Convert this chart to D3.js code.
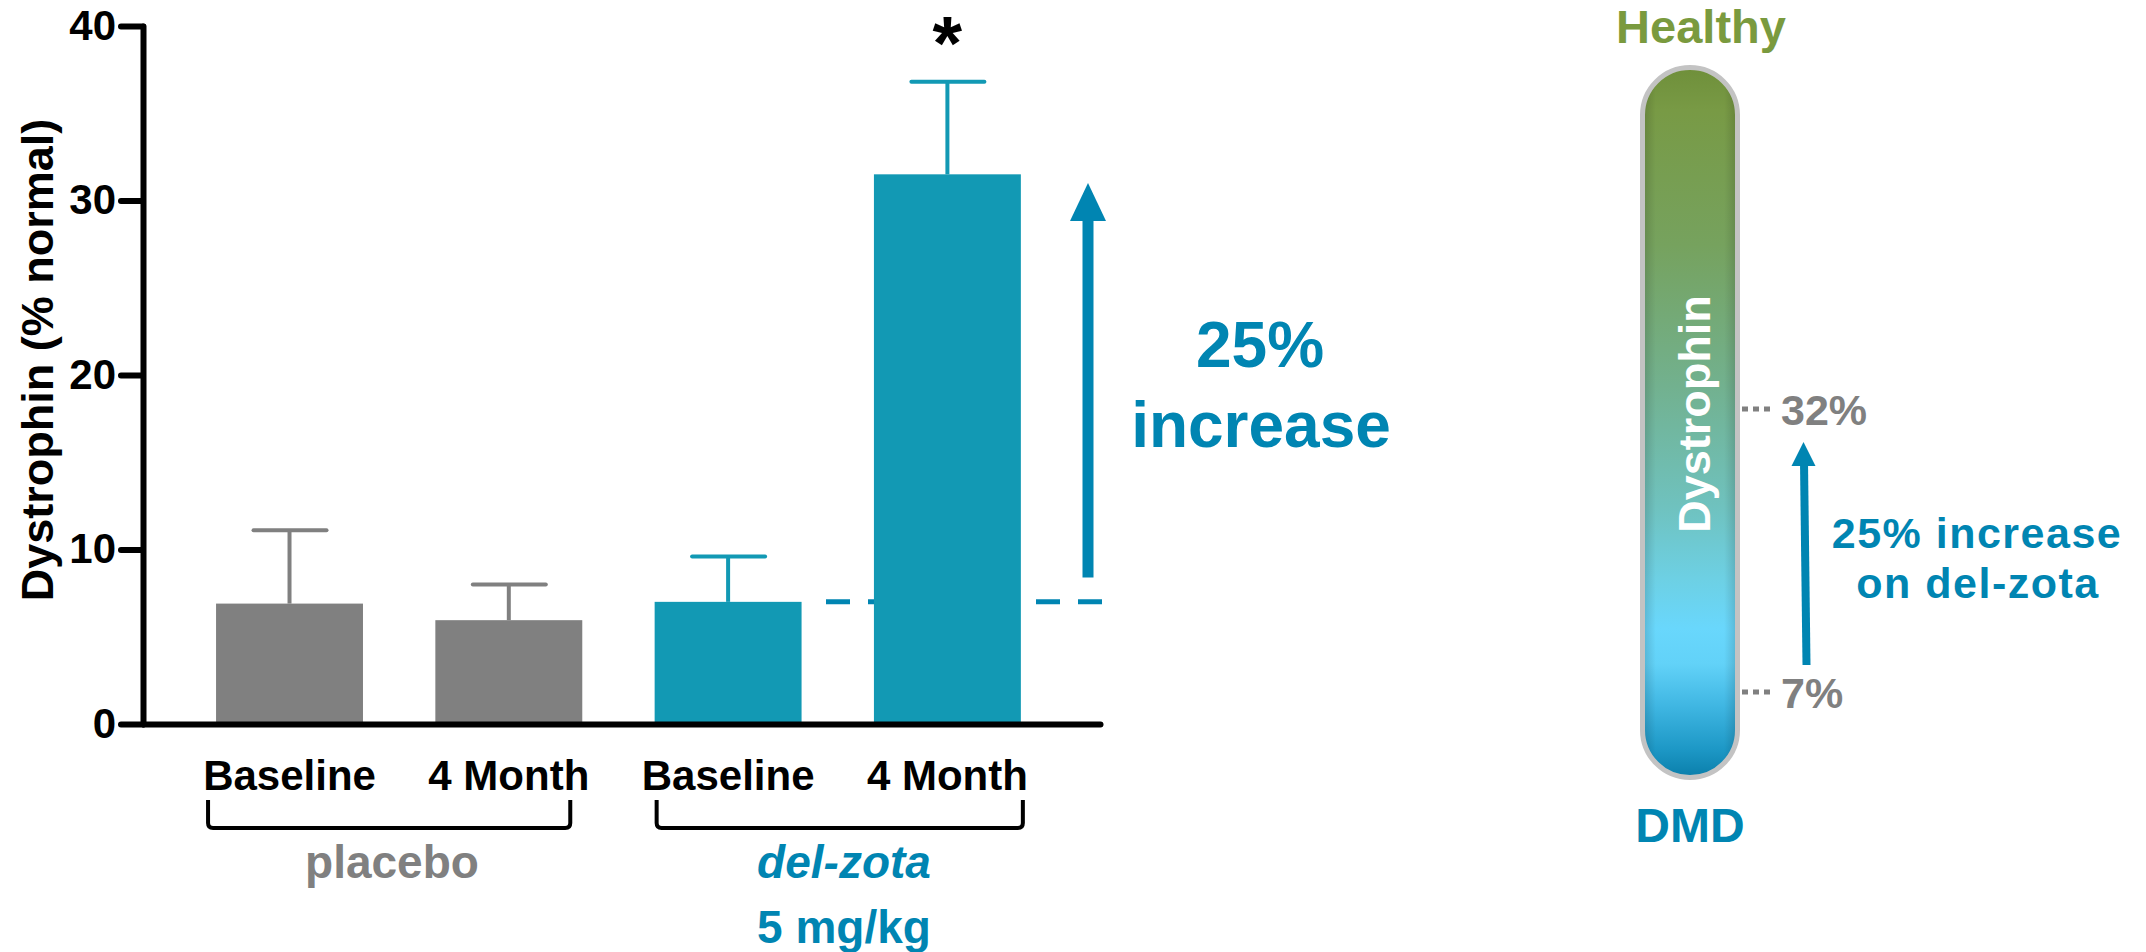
<!DOCTYPE html>
<html>
<head>
<meta charset="utf-8">
<script src="https://cdn.jsdelivr.net/npm/d3@7/dist/d3.min.js"></script>
<style>
  html, body { margin: 0; padding: 0; background: #fff; }
  svg { display: block; }
  text { font-family: "Liberation Sans", Arial, sans-serif; font-weight: bold; }
</style>
</head>
<body>
<svg id="chart" width="2146" height="952"></svg>
<script>
// ---------------- data ----------------
const categories = ["Baseline", "4 Month", "Baseline", "4 Month"];
const groups = ["placebo", "placebo", "del-zota", "del-zota"];
const means = [6.9, 5.95, 7.0, 31.5];
const upperErr = [11.1, 8.0, 9.6, 36.8];
const yTicks = [0, 10, 20, 30, 40];
const groupNames = ["placebo", "del-zota"];
const doseLabel = "5 mg/kg";
const yTitle = "Dystrophin (% normal)";
const baselineRef = 7.0;            // dashed reference level
const arrowRange = [8.4, 31.0];     // big arrow from / to
const increaseText = ["25%", "increase"];
const thermoLevels = [7, 32];
const thermoLabels = ["7%", "32%"];
const thermoTop = "Healthy";
const thermoBottom = "DMD";
const thermoText = "Dystrophin";
const thermoNote = ["25% increase", "on del-zota"];

// ---------------- styles ----------------
const GRAY = "#808080";
const TEAL = "#1299b4";
const BLUE = "#0085b2";
const GREEN = "#7a9a3e";

const svg = d3.select("#chart");

// ---------------- scales ----------------
const keys = categories.map((c, i) => groups[i] + "|" + c);
const x = d3.scaleBand().domain(keys).range([143, 1100])
  .paddingInner(0.33).paddingOuter(0.347).align(0.48);
const y = d3.scaleLinear().domain([0, 40]).range([724, 26]);
const bw = x.bandwidth();
const colorOf = g => g === "placebo" ? GRAY : TEAL;

// ---------------- y axis ----------------
const gy = svg.append("g").attr("transform", "translate(143,0)")
  .call(d3.axisLeft(y).tickValues(yTicks).tickSize(22).tickPadding(5).tickSizeOuter(0));
gy.select(".domain").attr("stroke", "#000").attr("stroke-width", 6).attr("stroke-linecap", "round");
gy.selectAll(".tick line").attr("stroke", "#000").attr("stroke-width", 6).attr("stroke-linecap", "round");
gy.selectAll(".tick text").attr("font-size", 42).attr("fill", "#000")
  .attr("font-family", '"Liberation Sans", Arial, sans-serif').attr("font-weight", "bold");

svg.append("text")
  .attr("transform", "translate(53,360) rotate(-90)")
  .attr("text-anchor", "middle").attr("font-size", 45).attr("fill", "#000")
  .text(yTitle);

// ---------------- dashed reference ----------------
svg.append("line")
  .attr("x1", 826).attr("x2", 1102)
  .attr("y1", y(baselineRef)).attr("y2", y(baselineRef))
  .attr("stroke", BLUE).attr("stroke-width", 5).attr("stroke-dasharray", "24,18");

// ---------------- bars ----------------
const data = keys.map((k, i) => ({ k, cat: categories[i], g: groups[i], v: means[i], e: upperErr[i] }));

svg.selectAll("rect.bar").data(data).join("rect")
  .attr("class", "bar")
  .attr("x", d => x(d.k)).attr("width", bw)
  .attr("y", d => y(d.v)).attr("height", d => y(0) - y(d.v))
  .attr("fill", d => colorOf(d.g));

// error bars
const eb = svg.selectAll("g.err").data(data).join("g").attr("class", "err");
eb.append("line")
  .attr("x1", d => x(d.k) + bw / 2).attr("x2", d => x(d.k) + bw / 2)
  .attr("y1", d => y(d.v)).attr("y2", d => y(d.e))
  .attr("stroke", d => colorOf(d.g)).attr("stroke-width", 4);
eb.append("line")
  .attr("x1", d => x(d.k) + bw / 2 - 36).attr("x2", d => x(d.k) + bw / 2 + 37)
  .attr("y1", d => y(d.e)).attr("y2", d => y(d.e))
  .attr("stroke", d => colorOf(d.g)).attr("stroke-width", 4).attr("stroke-linecap", "round");

// significance star
svg.append("text")
  .attr("x", x(keys[3]) + bw / 2).attr("y", 69)
  .attr("text-anchor", "middle").attr("font-size", 76).attr("fill", "#000")
  .text("*");

// ---------------- x axis ----------------
const gx = svg.append("g").attr("transform", `translate(0,${y(0)})`)
  .call(d3.axisBottom(x).tickSize(0).tickPadding(36).tickSizeOuter(0)
    .tickFormat(k => k.split("|")[1]));
gx.select(".domain").attr("stroke", "#000").attr("stroke-width", 6).attr("stroke-linecap", "round");
gx.selectAll(".tick text").attr("font-size", 42).attr("fill", "#000")
  .attr("font-family", '"Liberation Sans", Arial, sans-serif').attr("font-weight", "bold");

// ---------------- group brackets ----------------
const bracketSpec = [
  { g: groupNames[0], x1: x(keys[0]) - 8, x2: x(keys[1]) + bw - 12 },
  { g: groupNames[1], x1: x(keys[2]) + 2, x2: x(keys[3]) + bw + 2 }
];
bracketSpec.forEach(b => {
  const top = 800, bot = 828, r = 5;
  svg.append("path")
    .attr("d", `M${b.x1},${top} V${bot - r} Q${b.x1},${bot} ${b.x1 + r},${bot} H${b.x2 - r} Q${b.x2},${bot} ${b.x2},${bot - r} V${top}`)
    .attr("fill", "none").attr("stroke", "#000").attr("stroke-width", 4);
});
svg.append("text").attr("x", 392).attr("y", 878).attr("text-anchor", "middle")
  .attr("font-size", 46).attr("fill", GRAY).text(groupNames[0]);
svg.append("text").attr("x", 844).attr("y", 878).attr("text-anchor", "middle")
  .attr("font-size", 46).attr("font-style", "italic").attr("fill", BLUE).text(groupNames[1]);
svg.append("text").attr("x", 844).attr("y", 943).attr("text-anchor", "middle")
  .attr("font-size", 46).attr("fill", BLUE).text(doseLabel);

// ---------------- big arrow ----------------
const ax = 1088, tipY = y(arrowRange[1]), baseY = y(arrowRange[0]);
svg.append("line").attr("x1", ax).attr("x2", ax).attr("y1", baseY).attr("y2", tipY + 34)
  .attr("stroke", BLUE).attr("stroke-width", 11);
svg.append("path")
  .attr("d", `M${ax},${tipY} L${ax + 18},${tipY + 38} L${ax - 18},${tipY + 38} Z`)
  .attr("fill", BLUE);
svg.append("text").attr("x", 1260).attr("y", 367).attr("text-anchor", "middle")
  .attr("font-size", 64).attr("fill", BLUE).text(increaseText[0]);
svg.append("text").attr("x", 1261).attr("y", 447).attr("text-anchor", "middle")
  .attr("font-size", 64).attr("fill", BLUE).text(increaseText[1]);

// ---------------- thermometer ----------------
const defs = svg.append("defs");
const vg = defs.append("linearGradient").attr("id", "thermoV")
  .attr("x1", 0).attr("y1", 0).attr("x2", 0).attr("y2", 1);
[
  [0.00, "#6f8f3a"], [0.06, "#789a45"], [0.25, "#76a25e"], [0.45, "#72b18f"],
  [0.62, "#6fc2bf"], [0.72, "#6dd0e4"], [0.79, "#69d7fc"], [0.84, "#62d2f8"],
  [0.90, "#3fb6e2"], [0.96, "#1d98c6"], [1.00, "#0a7eaa"]
].forEach(([o, c]) => vg.append("stop").attr("offset", o).attr("stop-color", c));

const hg = defs.append("linearGradient").attr("id", "thermoH")
  .attr("x1", 0).attr("y1", 0).attr("x2", 1).attr("y2", 0);
[[0, 0.16], [0.14, 0.0], [0.86, 0.0], [1, 0.16]].forEach(([o, a]) =>
  hg.append("stop").attr("offset", o).attr("stop-color", "#000").attr("stop-opacity", a));

const tx = 1642.5, tw = 95, ty = 67.5, th = 710;
svg.append("rect").attr("x", tx).attr("y", ty).attr("width", tw).attr("height", th)
  .attr("rx", tw / 2).attr("ry", tw / 2).attr("fill", "url(#thermoV)");
svg.append("rect").attr("x", tx).attr("y", ty).attr("width", tw).attr("height", th)
  .attr("rx", tw / 2).attr("ry", tw / 2).attr("fill", "url(#thermoH)");
svg.append("rect").attr("x", tx).attr("y", ty).attr("width", tw).attr("height", th)
  .attr("rx", tw / 2).attr("ry", tw / 2).attr("fill", "none")
  .attr("stroke", "#c3c3c3").attr("stroke-width", 5);

svg.append("text")
  .attr("transform", "translate(1710,414) rotate(-90)")
  .attr("text-anchor", "middle").attr("font-size", 45).attr("fill", "#fff")
  .text(thermoText);

svg.append("text").attr("x", 1701).attr("y", 43).attr("text-anchor", "middle")
  .attr("font-size", 47).attr("fill", GREEN).text(thermoTop);
svg.append("text").attr("x", 1690).attr("y", 842).attr("text-anchor", "middle")
  .attr("font-size", 48).attr("fill", BLUE).text(thermoBottom);

// level markers
const ty2 = d3.scaleLinear().domain(thermoLevels).range([692, 409]);
thermoLevels.forEach((v, i) => {
  svg.append("line").attr("x1", 1742).attr("x2", 1774)
    .attr("y1", ty2(v)).attr("y2", ty2(v))
    .attr("stroke", GRAY).attr("stroke-width", 5).attr("stroke-dasharray", "6,5");
  svg.append("text").attr("x", 1781).attr("y", ty2(v) + 16)
    .attr("font-size", 43).attr("fill", GRAY).text(thermoLabels[i]);
});

// small arrow
svg.append("path")
  .attr("d", "M1803.5,442 L1815.5,466 L1791.5,466 Z").attr("fill", BLUE);
svg.append("line").attr("x1", 1804).attr("y1", 462).attr("x2", 1806.5).attr("y2", 665)
  .attr("stroke", BLUE).attr("stroke-width", 8);

svg.append("text").attr("x", 1977).attr("y", 548).attr("text-anchor", "middle")
  .attr("font-size", 43).attr("letter-spacing", 1.5).attr("fill", BLUE).text(thermoNote[0]);
svg.append("text").attr("x", 1978).attr("y", 598).attr("text-anchor", "middle")
  .attr("font-size", 43).attr("letter-spacing", 1.5).attr("fill", BLUE).text(thermoNote[1]);
</script>
</body>
</html>
